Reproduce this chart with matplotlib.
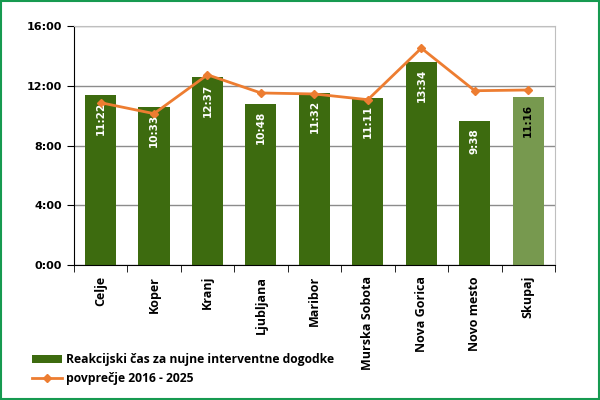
import numpy as np
import matplotlib.pyplot as plt
from matplotlib.ticker import FixedLocator

# data (hours:minutes)
regije = ["Celje", "Koper", "Kranj", "Ljubljana", "Maribor", "Murska Sobota",
          "Nova Gorica", "Novo mesto", "Skupaj"]
reakcijski_cas = ["11:22", "10:33", "12:37", "10:48", "11:32", "11:11",
                  "13:34", "9:38", "11:16"]
povprecje = ["10:52", "10:08", "12:44", "11:31", "11:27", "11:04",
             "14:31", "11:40", "11:43"]
y_ticks = ["0:00", "4:00", "8:00", "12:00", "16:00"]


def to_hours(s):
    h, m = s.split(":")
    return int(h) + int(m) / 60.0


def main():
    plt.rcParams['font.family'] = ['Open Sans', 'DejaVu Sans']

    bars = [to_hours(v) for v in reakcijski_cas]
    line = [to_hours(v) for v in povprecje]
    x = np.arange(len(regije))

    fig = plt.figure(figsize=(6, 4), dpi=100)
    fig.patches.append(plt.Rectangle((0.002, 0.002), 0.996, 0.996, transform=fig.transFigure,
                                     fill=False, ec="#169a50", lw=1.5))
    ax = fig.add_axes([0.123, 0.3375, 0.802, 0.5975])

    colors = ["#3d6b0f"] * (len(regije) - 1) + ["#77994f"]
    h_bar = ax.bar(x, bars, width=0.58, color=colors, zorder=2,
                   label="Reakcijski čas za nujne interventne dogodke")
    h_line, = ax.plot(x, line, color="#ed7d31", lw=2, marker="D", ms=4, zorder=3,
                      label="povprečje 2016 - 2025")

    for i, (xi, v) in enumerate(zip(x, bars)):
        c = "black" if i == len(regije) - 1 else "white"
        ax.text(xi, v - 0.45, reakcijski_cas[i], rotation=90, ha="center", va="top",
                color=c, fontsize=7.5, fontweight="bold", family="DejaVu Sans", zorder=4)

    ax.set_xlim(-0.5, len(regije) - 0.5)
    ax.set_ylim(0, 16)
    ax.set_yticks([to_hours(t) for t in y_ticks])
    ax.set_yticklabels(y_ticks, fontsize=8, fontweight="bold", family="DejaVu Sans")
    ax.set_xticks(x)
    ax.set_xticklabels(regije, rotation=90, fontsize=9, fontweight="bold")
    ax.tick_params(axis="x", length=0, pad=8)
    ax.xaxis.set_minor_locator(FixedLocator(np.arange(-0.5, len(regije), 1)))
    ax.tick_params(axis="x", which="minor", length=5, direction="out")
    ax.tick_params(axis="y", length=5, direction="out")

    ax.grid(axis="y", color="#8c8c8c", lw=1, zorder=0)
    for s in ["top", "right"]:
        ax.spines[s].set_color("#bfbfbf")
    ax.spines["left"].set_color("black")
    ax.spines["bottom"].set_color("black")

    fig.legend([h_bar, h_line],
               ["Reakcijski čas za nujne interventne dogodke", "povprečje 2016 - 2025"],
               loc="lower left", bbox_to_anchor=(0.035, 0.01), frameon=False,
               prop={"size": 8.7, "weight": "bold"}, handlelength=2.5,
               handletextpad=0.3, labelspacing=0.5)

    fig.savefig("out.png", dpi=100)


if __name__ == "__main__":
    main()
